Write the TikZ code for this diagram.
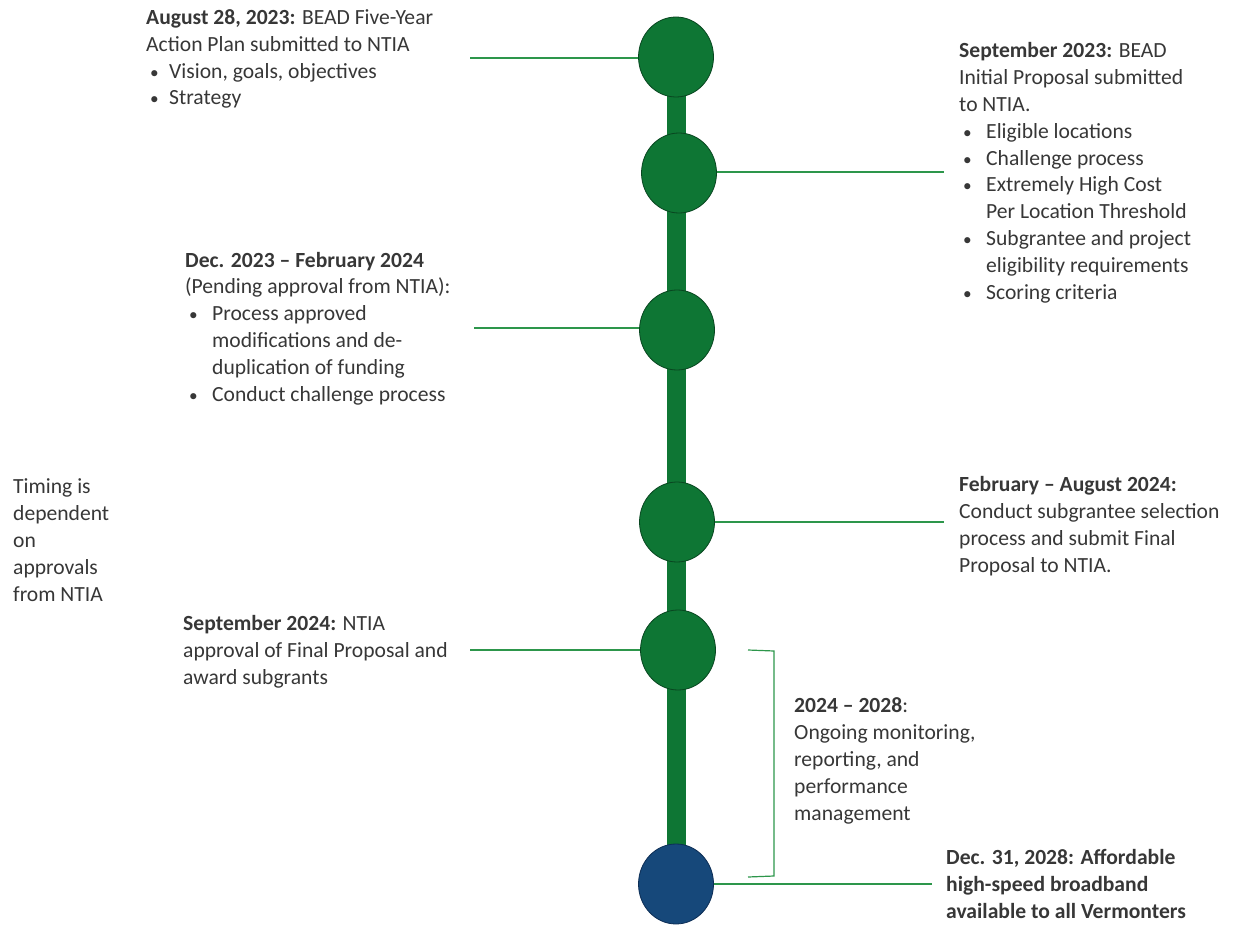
\documentclass[tikz,border=0pt]{standalone}
\usepackage{fontspec}
\setmainfont{Carlito}
\usetikzlibrary{shapes.geometric}
\definecolor{dotgreen}{RGB}{14,118,52}
\definecolor{dotedge}{RGB}{8,70,32}
\definecolor{dotblue}{RGB}{22,72,122}
\definecolor{blueedge}{RGB}{12,45,85}
\definecolor{linkgreen}{RGB}{45,150,75}
\definecolor{txt}{RGB}{55,55,55}
\newcommand{\bitem}[2]{\makebox[#1][l]{\hspace{4pt}\scalebox{0.8}{\textbullet}}#2}
\newcommand{\bcont}[2]{\hspace*{#1}#2}
\begin{document}
\begin{tikzpicture}[x=1pt,y=-1pt,
  dot/.style={ellipse, minimum width=75pt, minimum height=80pt, inner sep=0pt, fill=dotgreen, draw=dotedge, line width=0.8pt},
  enddot/.style={dot, fill=dotblue, draw=blueedge},
  bar/.style={draw=dotgreen, line width=19pt},
  link/.style={draw=linkgreen, line width=1.3pt},
  txtblock/.style={anchor=base west, inner sep=0pt, align=left, text=txt, font=\fontsize{21.6}{26.8}\selectfont}]
\useasboundingbox (0,0) rectangle (1236,925);
% centres
\coordinate (p1) at (676,57);
\coordinate (p2) at (679,173);
\coordinate (p3) at (677,330);
\coordinate (p4) at (677,522);
\coordinate (p5) at (678,650);
\coordinate (p6) at (676,884);
\draw[bar] (p1) -- (p6);
\node[dot] (c1) at (p1) {};
\node[dot] (c2) at (p2) {};
\node[dot] (c3) at (p3) {};
\node[dot] (c4) at (p4) {};
\node[dot] (c5) at (p5) {};
\node[enddot] (c6) at (p6) {};
% connector ends
\coordinate (e1) at (470,58);
\coordinate (e2) at (944,172);
\coordinate (e3) at (474,328);
\coordinate (e4) at (944,522);
\coordinate (e5) at (470,650);
\coordinate (e6) at (932,884);
\draw[link] (e1) -- (c1.west |- e1);
\draw[link] (c2.east |- e2) -- (e2);
\draw[link] (e3) -- (c3.west |- e3);
\draw[link] (c4.east |- e4) -- (e4);
\draw[link] (e5) -- (c5.west |- e5);
\draw[link] (c6.east |- e6) -- (e6);
% bracket
\coordinate (b1) at (748,650);
\coordinate (b2) at (774,651);
\coordinate (b3) at (774,876);
\coordinate (b4) at (748,877);
\draw[link, line width=1.2pt] (b1) -- (b2) -- (b3) -- (b4);
% texts (anchored at the baseline of their last line)
\node[txtblock] (t1) at (146,105) {\textbf{August 28, 2023:} BEAD Five-Year\\
Action Plan submitted to NTIA\\
\bitem{23pt}{Vision, goals, objectives}\\
\bitem{23pt}{Strategy}};
\node[txtblock] (t2) at (959,299) {\textbf{September 2023:} BEAD\\
Initial Proposal submitted\\
to NTIA.\\
\bitem{27pt}{Eligible locations}\\
\bitem{27pt}{Challenge process}\\
\bitem{27pt}{Extremely High Cost}\\
\bcont{27pt}{Per Location Threshold}\\
\bitem{27pt}{Subgrantee and project}\\
\bcont{27pt}{eligibility requirements}\\
\bitem{27pt}{Scoring criteria}};
\node[txtblock] (t3) at (185,401) {\textbf{Dec. 2023 – February 2024}\\
(Pending approval from NTIA):\\
\bitem{27pt}{Process approved}\\
\bcont{27pt}{modifications and de-}\\
\bcont{27pt}{duplication of funding}\\
\bitem{27pt}{Conduct challenge process}};
\node[txtblock] (t4) at (13,601) {Timing is\\dependent\\on\\approvals\\from NTIA};
\node[txtblock] (t5) at (959,572) {\textbf{February – August 2024:}\\
Conduct subgrantee selection\\
process and submit Final\\
Proposal to NTIA.};
\node[txtblock] (t6) at (183,684) {\textbf{September 2024:} NTIA\\
approval of Final Proposal and\\
award subgrants};
\node[txtblock] (t7) at (794,820) {\textbf{2024 – 2028}:\\
Ongoing monitoring,\\
reporting, and\\
performance\\
management};
\node[txtblock] (t8) at (946,918) {\textbf{Dec. 31, 2028: Affordable}\\
\textbf{high-speed broadband}\\
\textbf{available to all Vermonters}};
\end{tikzpicture}
\end{document}
